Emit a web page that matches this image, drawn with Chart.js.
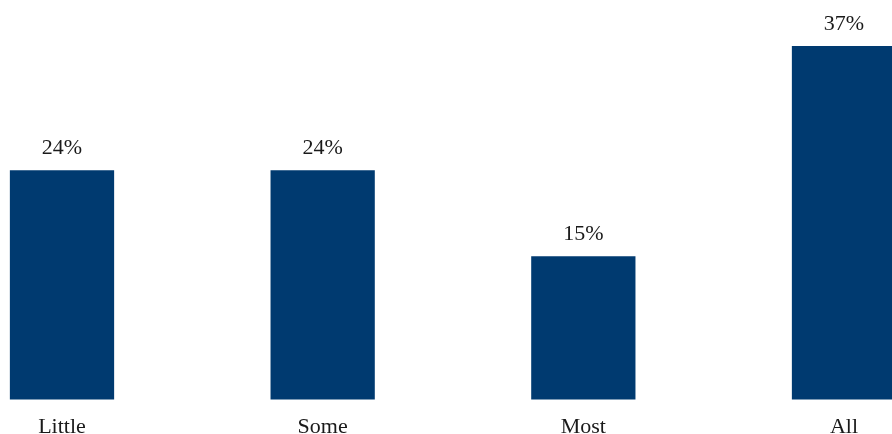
<!DOCTYPE html>
<html>
<head>
<meta charset="utf-8">
<script src="https://cdn.jsdelivr.net/npm/chart.js@4"></script>
<style>
  html, body { margin: 0; padding: 0; background: #fff; }
  #wrap { width: 892px; height: 434px; position: relative; }
</style>
</head>
<body>
<div id="wrap"><canvas id="barChart"></canvas></div>
<script>
const categories = ["Little", "Some", "Most", "All"];
const shares = [24, 24, 15, 37];

const FONT = "'Liberation Serif', 'DejaVu Serif', serif";

// value labels above each bar
const valueLabels = {
  id: "valueLabels",
  afterDatasetsDraw(chart) {
    const { ctx } = chart;
    const meta = chart.getDatasetMeta(0);
    ctx.save();
    ctx.font = "22px " + FONT;
    ctx.fillStyle = "#1a1a1a";
    ctx.textAlign = "center";
    ctx.textBaseline = "alphabetic";
    meta.data.forEach((bar, i) => {
      ctx.fillText(shares[i] + "%", bar.x, bar.y - 16);
    });
    ctx.restore();
  }
};

new Chart(document.getElementById("barChart"), {
  type: "bar",
  data: {
    labels: categories,
    datasets: [{ data: shares, backgroundColor: "#003a70", categoryPercentage: 1, barPercentage: 0.4, clip: false }],
  },
  options: {
    responsive: true, maintainAspectRatio: false, animation: false,
    layout: { padding: { left: 62, right: 48, top: 46, bottom: -20 } },
    plugins: { legend: { display: false }, tooltip: { enabled: false } },
    scales: {
      x: {
        offset: false,
        grid: { display: false, drawTicks: false },
        border: { display: false },
        ticks: { color: "#1a1a1a", padding: 14, font: { family: FONT, size: 22 } },
      },
      y: { display: false, min: 0, max: 37 },
    },
  },
  plugins: [valueLabels],
});
</script>
</body>
</html>
